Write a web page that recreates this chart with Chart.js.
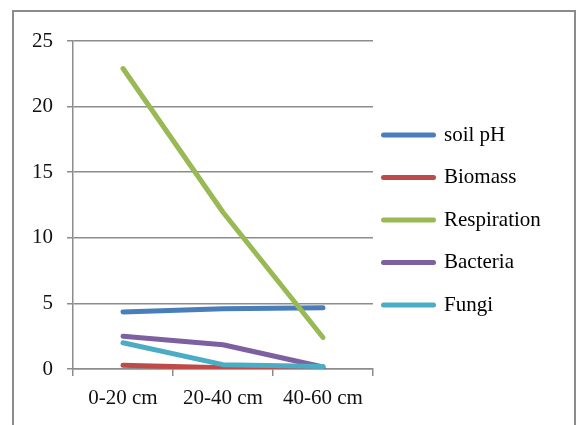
<!DOCTYPE html>
<html>
<head>
<meta charset="utf-8">
<script src="https://cdn.jsdelivr.net/npm/chart.js@4.4.0/dist/chart.umd.min.js"></script>
<style>
  html, body { margin: 0; padding: 0; background: #fff; overflow: hidden; }
  #frame { position: absolute; left: 12px; top: 10px; width: 560px; height: 430px; border: 2px solid #8c8c8c; }
  #box { position: relative; width: 560px; height: 413px; }
</style>
</head>
<body>
<div id="frame"><div id="box"><canvas id="soilChart"></canvas></div></div>
<script>
const depths = ['0-20 cm', '20-40 cm', '40-60 cm'];
const yTicks = [0, 5, 10, 15, 20, 25];

const soilPH = [4.35, 4.6, 4.67];
const biomass = [0.28, 0.1, 0.05];
const respiration = [22.9, 11.95, 2.4];
const bacteria = [2.5, 1.85, 0.15];
const fungi = [2.0, 0.33, 0.2];

const seriesNames = ['soil pH', 'Biomass', 'Respiration', 'Bacteria', 'Fungi'];
const seriesColors = ['#4a7ebb', '#be4b48', '#98b954', '#7d60a0', '#4bacc6'];
const seriesValues = [soilPH, biomass, respiration, bacteria, fungi];

const serif = "'Liberation Serif', 'Times New Roman', serif";
const gridGray = '#8c8c8c';

// excel draws later series on top, chart.js does the reverse unless we set order
const datasets = seriesNames.map((name, i) => ({
  label: name,
  data: seriesValues[i],
  borderColor: seriesColors[i],
  backgroundColor: seriesColors[i],
  borderWidth: 5,
  borderCapStyle: 'round',
  borderJoinStyle: 'round',
  pointRadius: 0,
  tension: 0,
  order: seriesNames.length - i
}));

// nudge the legend a bit left/up so it sits where the original one does
const legendNudge = {
  id: 'legendNudge',
  afterLayout(chart) {
    const lg = chart.legend;
    lg.left -= 11;
    lg.right = chart.width;
    lg.top -= 13; lg.bottom -= 13;
  }
};

const ctx = document.getElementById('soilChart').getContext('2d');
new Chart(ctx, {
  type: 'line',
  data: { labels: depths, datasets: datasets },
  plugins: [legendNudge],
  options: {
    responsive: true,
    maintainAspectRatio: false,
    animation: false,
    layout: { padding: { top: 29, right: 41, bottom: 0, left: 0 } },
    scales: {
      x: {
        offset: true,
        grid: { offset: true, drawOnChartArea: false, drawTicks: true, tickLength: 7, color: gridGray, lineWidth: 1.5 },
        border: { display: true, color: gridGray, width: 1.5 },
        ticks: { color: '#111', padding: 10, font: { family: serif, size: 21 } },
        afterFit: s => { s.height = 56; }
      },
      y: {
        min: 0,
        max: 25,
        afterBuildTicks: s => { s.ticks = yTicks.map(v => ({ value: v })); },
        grid: { color: gridGray, lineWidth: 1.5, tickLength: 6 },
        border: { display: true, color: gridGray, width: 1.5 },
        ticks: { color: '#111', padding: 14, font: { family: serif, size: 21 } },
        afterFit: s => { s.width = 59; }
      }
    },
    plugins: {
      tooltip: { enabled: false },
      legend: {
        position: 'right',
        maxWidth: 160,
        labels: {
          usePointStyle: true,
          pointStyle: 'line',
          pointStyleWidth: 50,
          padding: 21.5,
          color: '#111',
          font: { family: serif, size: 21 },
          sort: (a, b) => a.datasetIndex - b.datasetIndex,
          generateLabels: chart => chart.data.datasets.map((ds, i) => ({
            text: ds.label,
            strokeStyle: ds.borderColor,
            fillStyle: ds.borderColor,
            lineWidth: 5,
            lineCap: 'round',
            pointStyle: 'line',
            hidden: false,
            datasetIndex: i
          }))
        }
      }
    }
  }
});
</script>
</body>
</html>
